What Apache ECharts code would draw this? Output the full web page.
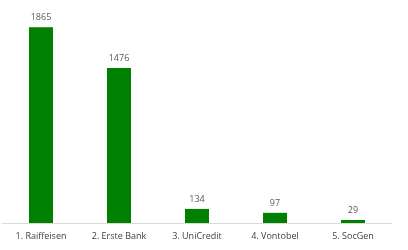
<!DOCTYPE html>
<html>
<head>
<meta charset="utf-8">
<script src="https://cdn.jsdelivr.net/npm/echarts@6/dist/echarts.min.js"></script>
<style>
  html, body { margin: 0; padding: 0; background: #fff; }
  #main { width: 408px; height: 250px; }
</style>
</head>
<body>
<div id="main"></div>
<script>
// Daten
var banks = ['1. Raiffeisen', '2. Erste Bank', '3. UniCredit', '4. Vontobel', '5. SocGen'];
var counts = [1865, 1476, 134, 97, 29];

var myChart = echarts.init(document.getElementById('main'));
myChart.setOption({
  animation: false,
  grid: { left: 2, right: 16, top: 13, bottom: 27 },
  xAxis: {
    type: 'category',
    data: banks,
    axisLine: { lineStyle: { color: '#d9d9d9', width: 1 } },
    axisTick: { show: false },
    axisLabel: {
      color: '#404040',
      fontSize: 9,
      fontFamily: 'Open Sans',
      margin: 9,
      interval: 0
    }
  },
  yAxis: {
    type: 'value',
    min: 0,
    max: 2000,
    show: false,
    splitLine: { show: false }
  },
  series: [{
    type: 'bar',
    data: counts,
    barWidth: 24,
    itemStyle: { color: '#008000' },
    label: {
      show: true,
      position: 'top',
      distance: 5,
      color: '#595959',
      fontSize: 9,
      fontFamily: 'Open Sans'
    }
  }]
});
</script>
</body>
</html>
